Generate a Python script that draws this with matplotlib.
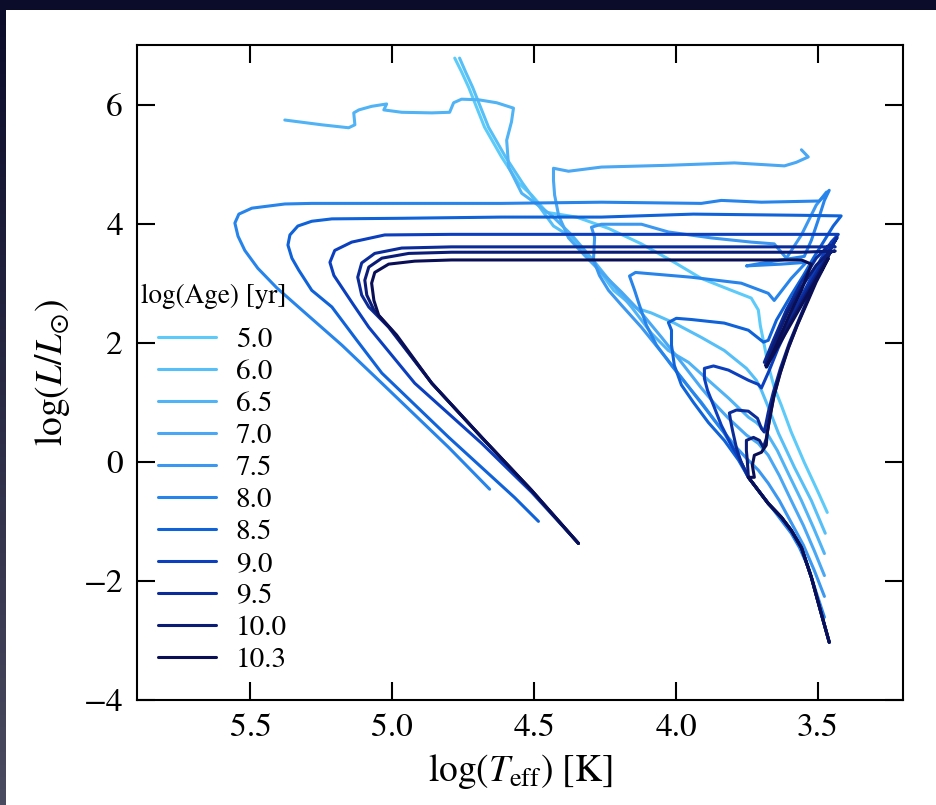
import numpy as np
import matplotlib
matplotlib.use("Agg")
import matplotlib.pyplot as plt
from matplotlib.patches import Rectangle
from matplotlib.colors import LinearSegmentedColormap

plt.rcParams['font.family'] = ['STIXGeneral', 'DejaVu Sans']
plt.rcParams['mathtext.fontset'] = 'stix'

ages = ['5.0', '6.0', '6.5', '7.0', '7.5', '8.0', '8.5', '9.0', '9.5', '10.0', '10.3']
colors = ['#5ccbf9', '#56bff7', '#50b3f5', '#49a7f3', '#3b97ef', '#2784ea',
          '#0f62d8', '#0b3fbe', '#0b2b98', '#0b1c77', '#0a0f55']

# shared lower main sequence of the older isochrones
ms_logT = [3.460, 3.488, 3.523, 3.558, 3.594, 3.629, 3.675, 3.710, 3.745]
ms_logL = [-3.03, -2.55, -1.94, -1.44, -1.15, -0.93, -0.70, -0.48, -0.26]

logT_50 = [3.467, 3.502, 3.548, 3.594, 3.629, 3.654, 3.675, 3.689, 3.703, 3.710, 3.735, 3.805, 3.911,
           4.006, 4.122, 4.238, 4.351, 4.456, 4.509, 4.555, 4.615, 4.675, 4.731, 4.756, 4.780]
logL_50 = [-0.85, -0.48, -0.01, 0.50, 0.95, 1.25, 1.62, 1.96, 2.29, 2.55, 2.75, 2.88, 3.08,
           3.35, 3.66, 3.92, 4.11, 4.19, 4.48, 4.68, 5.12, 5.62, 6.29, 6.55, 6.78]

logT_60 = [3.474, 3.523, 3.583, 3.639, 3.675, 3.699, 3.717, 3.752, 3.830, 3.911, 4.006, 4.087, 4.139,
           4.164, 4.220, 4.291, 4.368, 4.432, 4.481, 4.541, 4.601, 4.661, 4.717, 4.742, 4.763]
logL_60 = [-1.20, -0.65, -0.09, 0.48, 0.92, 1.20, 1.37, 1.57, 1.87, 2.09, 2.33, 2.50, 2.58,
           2.66, 2.88, 3.35, 3.77, 3.96, 4.28, 4.68, 5.12, 5.62, 6.29, 6.55, 6.78]

logT_65 = [3.477, 3.516, 3.558, 3.601, 3.643, 3.682, 3.717, 3.745, 3.815, 3.886, 3.956, 4.027, 4.087,
           4.157, 4.227, 4.298, 4.368, 4.439, 4.509, 4.544, 4.590, 4.597, 4.580, 4.573, 4.632, 4.696,
           4.756, 4.784, 4.798, 4.861, 4.967, 5.030, 5.020, 5.073, 5.118, 5.136, 5.132, 5.154, 5.249, 5.379]
logL_65 = [-1.54, -1.10, -0.65, -0.23, 0.19, 0.50, 0.66, 0.75, 1.07, 1.37, 1.67, 1.87, 2.16,
           2.60, 3.00, 3.42, 3.81, 4.14, 4.39, 4.51, 4.95, 5.40, 5.71, 5.94, 6.03, 6.08,
           6.09, 6.03, 5.87, 5.86, 5.87, 5.91, 6.01, 5.97, 5.91, 5.86, 5.66, 5.61, 5.66, 5.74]

logT_70 = [3.477, 3.513, 3.551, 3.594, 3.636, 3.675, 3.710, 3.752, 3.815, 3.865, 3.911, 3.981, 4.051,
           4.122, 4.192, 4.263, 4.323, 4.379, 4.414, 4.428, 4.432, 4.432, 4.379, 4.263, 4.027, 3.794,
           3.618, 3.576, 3.534, 3.558]
logL_70 = [-1.91, -1.49, -1.07, -0.65, -0.23, 0.11, 0.31, 0.45, 0.73, 0.98, 1.24, 1.67, 2.09,
           2.50, 2.85, 3.18, 3.47, 3.76, 4.14, 4.48, 4.73, 4.93, 4.88, 4.95, 4.98, 5.02,
           4.97, 5.03, 5.12, 5.24]

logT_75 = [3.477, 3.513, 3.551, 3.594, 3.636, 3.675, 3.710, 3.752, 3.787, 3.823, 3.865, 3.911, 3.946,
           4.034, 4.122, 4.192, 4.238, 4.270, 4.291, 4.287, 4.298, 4.263, 4.122, 4.027, 3.875, 3.735,
           3.654, 3.611, 3.558, 3.506, 3.470]
logL_75 = [-2.26, -1.82, -1.40, -1.02, -0.65, -0.36, -0.14, 0.06, 0.24, 0.45, 0.70, 1.00, 1.20,
           1.74, 2.26, 2.63, 2.88, 3.13, 3.39, 3.77, 3.94, 3.99, 3.99, 3.86, 3.76, 3.69,
           3.66, 3.42, 3.81, 4.31, 4.53]

logT_80 = [3.477, 3.506, 3.534, 3.565, 3.594, 3.629, 3.664, 3.710, 3.745, 3.780, 3.830, 3.886, 3.946,
           4.016, 4.069, 4.104, 4.129, 4.146, 4.164, 4.143, 3.946, 3.770, 3.675, 3.654, 3.594, 3.541,
           3.629, 3.752, 3.682, 3.548, 3.523, 3.499, 3.477, 3.460, 3.495, 3.699, 3.840, 3.911, 4.263,
           4.615, 4.967, 5.284, 5.379, 5.495, 5.541, 5.555, 5.544, 5.520, 5.474, 5.407, 5.319, 5.178,
           5.037, 4.801, 4.657]
logL_80 = [-2.61, -2.19, -1.77, -1.44, -1.20, -0.98, -0.76, -0.48, -0.26, 0.08, 0.48, 0.83, 1.20,
           1.62, 1.96, 2.29, 2.63, 2.88, 3.12, 3.18, 3.10, 3.00, 2.83, 2.71, 3.08, 3.35,
           3.32, 3.29, 3.35, 3.45, 3.72, 4.06, 4.39, 4.56, 4.38, 4.36, 4.39, 4.34, 4.36,
           4.34, 4.34, 4.34, 4.33, 4.26, 4.16, 4.01, 3.79, 3.55, 3.25, 2.92, 2.55, 1.96,
           1.32, 0.24, -0.46]

logT_85 = [3.780, 3.830, 3.886, 3.939, 3.981, 4.006, 4.016, 4.016, 4.027, 3.999, 3.946, 3.830, 3.745,
           3.692, 3.675, 3.646, 3.594, 3.551, 3.516, 3.477, 3.446, 3.418, 3.558, 3.939, 4.263, 4.615,
           4.967, 5.213, 5.284, 5.333, 5.361, 5.368, 5.354, 5.330, 5.284, 5.213, 5.125, 5.037, 4.801,
           4.569, 4.485]
logL_85 = [0.03, 0.36, 0.66, 1.00, 1.29, 1.62, 1.96, 2.21, 2.34, 2.41, 2.39, 2.33, 2.21,
           2.01, 2.04, 2.38, 2.80, 3.13, 3.42, 3.72, 3.96, 4.13, 4.14, 4.16, 4.11, 4.11,
           4.09, 4.08, 4.04, 3.96, 3.81, 3.64, 3.42, 3.22, 2.88, 2.60, 2.04, 1.49, 0.41,
           -0.60, -1.00]

logT_90 = [3.770, 3.805, 3.840, 3.868, 3.889, 3.900, 3.900, 3.868, 3.815, 3.745, 3.710, 3.699, 3.671,
           3.640, 3.594, 3.548, 3.506, 3.481, 3.664, 3.636, 3.587, 3.537, 3.488, 3.453, 3.428, 3.558,
           4.263, 4.791, 5.027, 5.143, 5.203, 5.220, 5.206, 5.178, 5.136, 5.083, 4.921, 4.685, 4.509,
           4.344]
logL_90 = [-0.01, 0.28, 0.61, 0.95, 1.20, 1.40, 1.57, 1.61, 1.54, 1.37, 1.30, 1.24, 1.54,
           1.91, 2.38, 2.83, 3.22, 3.42, 1.79, 2.04, 2.51, 2.97, 3.42, 3.69, 3.82, 3.82,
           3.82, 3.82, 3.81, 3.69, 3.55, 3.35, 3.13, 2.93, 2.63, 2.26, 1.32, 0.31, -0.51,
           -1.37]

logT_95 = [3.770, 3.787, 3.801, 3.808, 3.812, 3.787, 3.745, 3.713, 3.699, 3.689, 3.675, 3.657, 3.632,
           3.601, 3.565, 3.530, 3.495, 3.467, 3.442, 3.432, 3.689, 3.657, 3.611, 3.558, 3.506, 3.460,
           3.439, 3.558, 4.263, 4.791, 4.967, 5.062, 5.108, 5.122, 5.108, 5.083, 5.013, 4.861, 4.685,
           4.509, 4.344]
logL_95 = [-0.01, 0.23, 0.53, 0.70, 0.82, 0.87, 0.85, 0.73, 0.56, 0.50, 0.83, 1.17, 1.57,
           1.99, 2.41, 2.80, 3.18, 3.47, 3.69, 3.77, 1.67, 2.04, 2.55, 3.02, 3.42, 3.64,
           3.61, 3.61, 3.61, 3.61, 3.59, 3.50, 3.34, 3.10, 2.80, 2.60, 2.26, 1.32, 0.41,
           -0.48, -1.37]

logT_100 = [3.749, 3.752, 3.752, 3.727, 3.706, 3.692, 3.682, 3.671, 3.657, 3.636, 3.608, 3.576, 3.541,
            3.506, 3.477, 3.456, 3.685, 3.654, 3.608, 3.558, 3.506, 3.460, 3.439, 3.558, 4.263, 4.791,
            4.942, 5.037, 5.083, 5.097, 5.090, 5.065, 5.002, 4.861, 4.685, 4.509, 4.344]
logL_100 = [0.03, 0.19, 0.36, 0.41, 0.36, 0.24, 0.39, 0.70, 1.07, 1.45, 1.87, 2.26, 2.66,
            3.05, 3.34, 3.52, 1.62, 1.99, 2.50, 2.93, 3.30, 3.52, 3.54, 3.52, 3.52, 3.52,
            3.50, 3.42, 3.27, 3.05, 2.80, 2.55, 2.21, 1.32, 0.41, -0.48, -1.37]

logT_103 = [3.724, 3.731, 3.724, 3.699, 3.682, 3.678, 3.668, 3.654, 3.632, 3.604, 3.573, 3.537, 3.506,
            3.481, 3.463, 3.682, 3.646, 3.601, 3.558, 3.534, 3.523, 3.558, 4.263, 4.791, 4.921, 5.013,
            5.062, 5.073, 5.065, 5.048, 4.985, 4.861, 4.685, 4.509, 4.344]
logL_103 = [-0.26, -0.06, 0.11, 0.16, 0.28, 0.50, 0.78, 1.12, 1.50, 1.91, 2.29, 2.68, 3.02,
            3.25, 3.42, 1.59, 1.96, 2.46, 2.88, 3.18, 3.32, 3.39, 3.39, 3.39, 3.37, 3.32,
            3.18, 3.00, 2.71, 2.46, 2.13, 1.32, 0.41, -0.48, -1.37]

tracks = [
    (logT_50, logL_50), (logT_60, logL_60), (logT_65, logL_65), (logT_70, logL_70),
    (logT_75, logL_75), (logT_80, logL_80),
    (ms_logT + logT_85, ms_logL + logL_85), (ms_logT + logT_90, ms_logL + logL_90),
    (ms_logT + logT_95, ms_logL + logL_95), (ms_logT + logT_100, ms_logL + logL_100),
    (ms_logT + logT_103, ms_logL + logL_103),
]

W, H = 936, 805
fig = plt.figure(figsize=(W / 100, H / 100), dpi=100)
fig.patch.set_facecolor('#0b0c2a')
# white slide area
fig.add_artist(Rectangle((6 / W, 0), 1 - 6 / W, 1 - 10 / H, transform=fig.transFigure,
                         facecolor='white', edgecolor='none', zorder=-5))
# left border gradient
axg = fig.add_axes([0, 0, 6 / W, 1 - 10 / H], zorder=-4)
grad = np.linspace(0, 1, 256).reshape(-1, 1)
cm = LinearSegmentedColormap.from_list('edge', ['#4a4a60', '#0b0c2a'])
axg.imshow(grad, aspect='auto', cmap=cm, origin='lower')
axg.axis('off')

ax = fig.add_axes([137 / W, 1 - 700 / H, (903 - 137) / W, (700 - 45) / H])
for (t, l), age, c in zip(tracks, ages, colors):
    ax.plot(t, l, color=c, lw=2.2, label=age, solid_joinstyle='round', solid_capstyle='round')

ax.set_xlim(5.9, 3.2)
ax.set_ylim(-4, 7)
ax.set_xticks([5.5, 5.0, 4.5, 4.0, 3.5])
ax.set_xticklabels(['5.5', '5.0', '4.5', '4.0', '3.5'])
ax.set_yticks([-4, -2, 0, 2, 4, 6])
ax.tick_params(direction='in', length=13, width=1.5, labelsize=24, top=True, right=True, pad=10)
for s in ax.spines.values():
    s.set_linewidth(1.5)
ax.set_xlabel(r'$\log(T_{\rm eff})\ [\rm K]$', fontsize=27, labelpad=6)
ax.set_ylabel(r'$\log(L/L_{\odot})$', fontsize=27, labelpad=8)

leg = ax.legend(title='log(Age) [yr]', loc='upper left', bbox_to_anchor=(0.002, 0.64),
                frameon=False, fontsize=21, title_fontsize=19.5, handlelength=2.0,
                handletextpad=0.68, labelspacing=0.19, borderaxespad=0.0, borderpad=0.1,
                alignment='right')
leg._legend_box.sep = 13

fig.savefig('out.png', dpi=100, facecolor=fig.get_facecolor())
